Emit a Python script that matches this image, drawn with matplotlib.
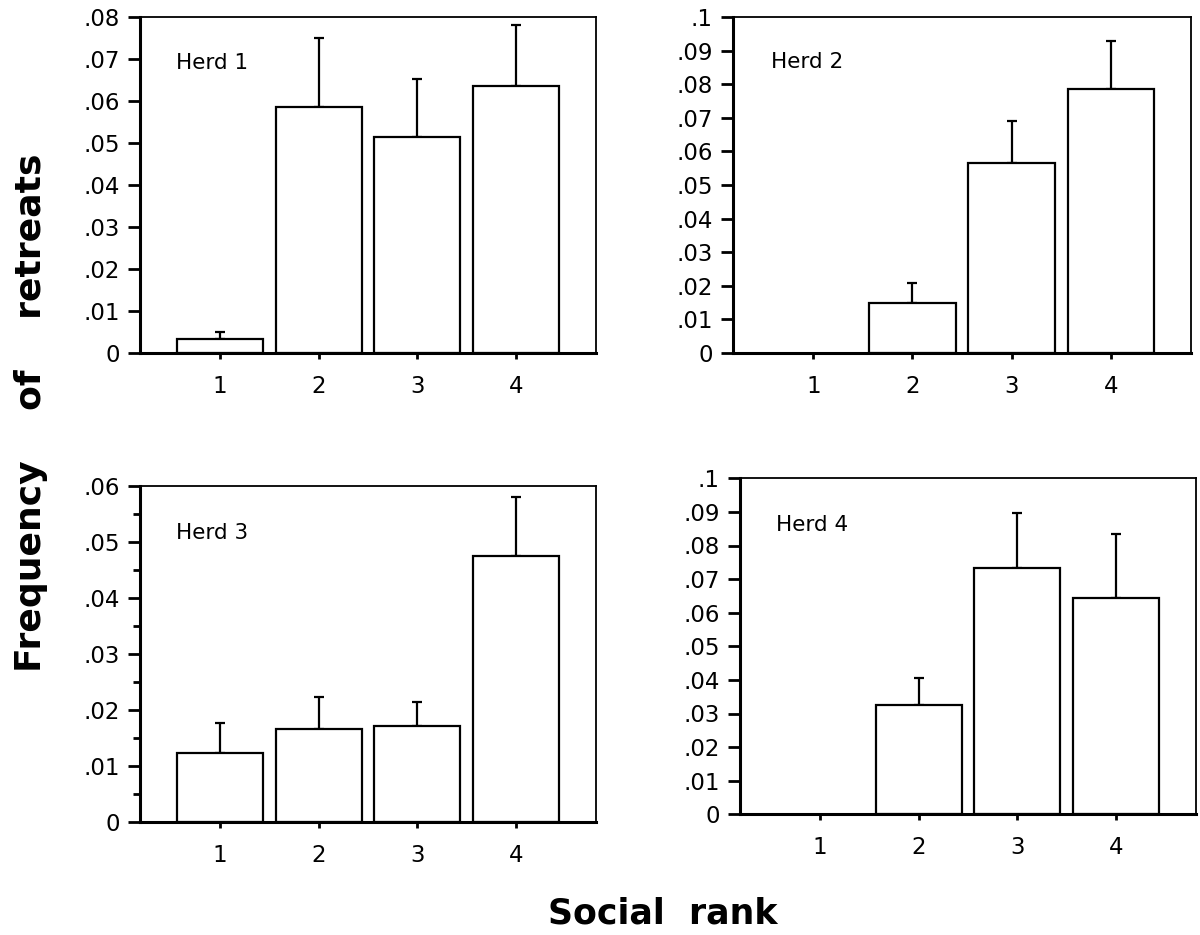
import matplotlib
matplotlib.use("Agg")
import matplotlib.pyplot as plt
from matplotlib.ticker import MultipleLocator, FuncFormatter
import numpy as np

plt.rcParams['font.family'] = ['DejaVu Sans']

ranks = [1, 2, 3, 4]
rank_labels = ["1", "2", "3", "4"]
herd_names = ["Herd 1", "Herd 2", "Herd 3", "Herd 4"]

herd1_vals = [0.0033, 0.0585, 0.0515, 0.0635]
herd1_err = [0.0018, 0.0164, 0.0138, 0.0145]
herd2_vals = [0.0, 0.0150, 0.0564, 0.0785]
herd2_err = [0.0, 0.0058, 0.0127, 0.0143]
herd3_vals = [0.0124, 0.0166, 0.0172, 0.0476]
herd3_err = [0.0053, 0.0057, 0.0042, 0.0104]
herd4_vals = [0.0, 0.0325, 0.0732, 0.0643]
herd4_err = [0.0, 0.0080, 0.0166, 0.0190]

ymax = [0.08, 0.1, 0.06, 0.1]

fig = plt.figure(figsize=(12, 9.35), dpi=100)

rects = [
    [140/1200, 1-353/935, 456/1200, 336/935],
    [733/1200, 1-353/935, 458/1200, 336/935],
    [140/1200, 1-822.3/935, 456/1200, 336.3/935],
    [740/1200, 1-814.3/935, 456/1200, 336/935],
]
text_pos = [(0.079, 0.863), (0.082, 0.866), (0.079, 0.86), (0.080, 0.861)]

def fmt(v, pos):
    if abs(v) < 1e-12:
        return "0"
    s = f"{v:.3f}".rstrip('0')
    if s.startswith("0"):
        s = s[1:]
    return s

data = [(herd1_vals, herd1_err), (herd2_vals, herd2_err),
        (herd3_vals, herd3_err), (herd4_vals, herd4_err)]

for i, (vals, errs) in enumerate(data):
    ax = fig.add_axes(rects[i])
    vals = np.array(vals)
    errs = np.array(errs)
    mask = vals > 0
    x = np.array(ranks)
    ax.bar(x[mask], vals[mask], width=0.87, facecolor='white', edgecolor='black',
           linewidth=1.6, zorder=2)
    lower = np.zeros_like(errs[mask])
    ax.errorbar(x[mask], vals[mask], yerr=[lower, errs[mask]], fmt='none',
                ecolor='black', elinewidth=1.6, capsize=3.3, capthick=1.6, zorder=1)
    ax.set_xlim(0.19, 4.81)
    ax.set_ylim(0, ymax[i])
    ax.set_xticks(ranks)
    ax.set_xticklabels(rank_labels)
    ax.yaxis.set_major_locator(MultipleLocator(0.01))
    ax.yaxis.set_major_formatter(FuncFormatter(fmt))
    if i == 2:
        ax.yaxis.set_minor_locator(MultipleLocator(0.005))
    ax.tick_params(axis='y', which='major', direction='out', length=8.6, width=2.0,
                   labelsize=16.5, pad=6)
    ax.tick_params(axis='y', which='minor', direction='out', length=5, width=2.0)
    ax.tick_params(axis='x', which='major', direction='out', length=4.5, width=2.0,
                   labelsize=16.5, pad=11)
    ax.spines['left'].set_linewidth(2.2)
    ax.spines['bottom'].set_linewidth(2.2)
    ax.spines['top'].set_linewidth(1.3)
    ax.spines['right'].set_linewidth(1.3)
    ax.text(text_pos[i][0], text_pos[i][1], herd_names[i], transform=ax.transAxes,
            fontsize=15.5, va='center', ha='left')

fig.text(0.5525, 0.0235, "Social  rank", fontsize=25, fontweight='bold',
         ha='center', va='center')
fig.text(0.026, 0.559, "Frequency    of    retreats", fontsize=26, fontweight='bold',
         rotation=90, ha='center', va='center')

fig.savefig("out.png", dpi=100)
